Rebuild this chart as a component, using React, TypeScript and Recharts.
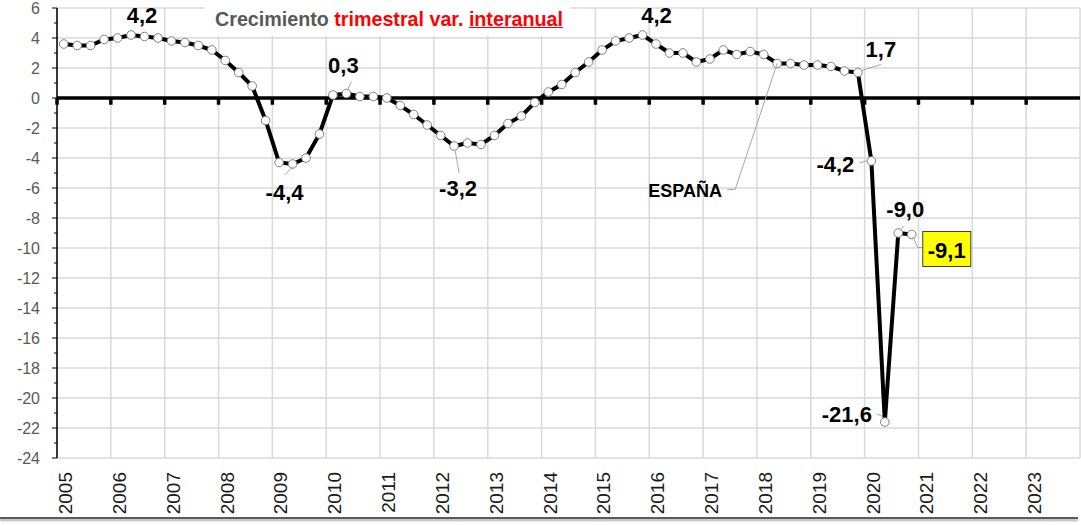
import {
  CartesianGrid,
  LabelList,
  Line,
  LineChart,
  ReferenceLine,
  XAxis,
  YAxis,
} from 'recharts'

// PIB España, crecimiento trimestral, variación interanual (%), 2005T1 - 2020T4
const firstYear = 2005
const interanual = [
  3.6, 3.5, 3.5, 3.9,
  4.0, 4.2, 4.1, 4.0,
  3.8, 3.7, 3.5, 3.2,
  2.5, 1.7, 0.8, -1.5,
  -4.3, -4.4, -4.0, -2.4,
  0.2, 0.3, 0.1, 0.1,
  0.0, -0.5, -1.1, -1.8,
  -2.5, -3.2, -3.0, -3.1,
  -2.5, -1.7, -1.2, -0.3,
  0.4, 0.9, 1.7, 2.4,
  3.2, 3.8, 4.0, 4.2,
  3.6, 3.0, 3.0, 2.4,
  2.6, 3.2, 2.9, 3.1,
  2.9, 2.3, 2.3, 2.2,
  2.2, 2.1, 1.8, 1.7,
  -4.2, -21.6, -9.0, -9.1,
]

const yearTicks = [
  2005, 2006, 2007, 2008, 2009, 2010, 2011, 2012, 2013, 2014,
  2015, 2016, 2017, 2018, 2019, 2020, 2021, 2022, 2023,
]
const yMajor = [-24, -22, -20, -18, -16, -14, -12, -10, -8, -6, -4, -2, 0, 2, 4, 6]
const yMinor = [-23, -21, -19, -17, -15, -13, -11, -9, -7, -5, -3, -1, 1, 3, 5]

// which points get a data label (no text -> the value itself)
const callouts = [
  { index: 5, dx: 11, dy: -12 },
  { index: 21, dx: -3, dy: -21, leader: [[5, -12], [1, -3]] },
  { index: 17, dx: -8, dy: 36, leader: [[0, 3], [-8, 11]] },
  { index: 29, dx: 4, dy: 50, leader: [[1, 4], [5, 27]] },
  { index: 43, dx: 14, dy: -12 },
  { index: 59, dx: 23, dy: -16, leader: [[4, -2], [23, -8]] },
  { index: 60, dx: -36, dy: 11, leader: [[-12, 2], [-5, 0]] },
  { index: 61, dx: -38, dy: 0, leader: [[-8, -8], [-3, -6]] },
  { index: 62, dx: 7, dy: -16, leader: [[1, -2], [6, -7]] },
  { index: 63, dx: 35, dy: 23, box: true, leader: [[1, 2], [6, 13], [11, 13]] },
  { index: 53, dx: -92, dy: 133, text: 'ESPAÑA', leader: [[0, 0], [-42, 126], [-50, 126]] },
]

const data = interanual.map((v, i) => ({ t: firstYear + (i + 0.5) / 4, v }))

const FONT = '"Liberation Sans", Arial, sans-serif'

const fmt = (v: number) => v.toFixed(1).replace('.', ',')

const YTick = ({ x, y, payload }: any) => {
  const major = yMajor.includes(payload.value)
  return (
    <g>
      <line x1={x - (major ? 5 : 3)} y1={y} x2={x} y2={y} stroke="#000" strokeWidth={1} />
      {major && (
        <text
          x={x - 17}
          y={y}
          textAnchor="end"
          dominantBaseline="central"
          fill="#595959"
          fontSize={16}
          fontFamily={FONT}
        >
          {payload.value}
        </text>
      )}
    </g>
  )
}

const XTick = ({ x, payload }: any) => (
  <text
    x={x + 15}
    y={472}
    transform={`rotate(-90, ${x + 15}, 472)`}
    textAnchor="end"
    fill="#1a1a1a"
    fontSize={19}
    fontFamily={FONT}
  >
    {payload.value}
  </text>
)

const Callout = (props: any) => {
  const { x, y, index, value } = props
  const c = callouts.find((k) => k.index === index)
  if (!c) return null
  const label = c.text ?? fmt(value)
  const size = c.text ? 18 : 22
  return (
    <g>
      {c.leader && (
        <polyline
          points={c.leader.map(([a, b]) => `${x + a},${y + b}`).join(' ')}
          fill="none"
          stroke="#a6a6a6"
          strokeWidth={1}
        />
      )}
      {c.box && (
        <rect
          x={x + 11}
          y={y - 3}
          width={48}
          height={35}
          fill="#ffff00"
          stroke="#404040"
          strokeWidth={1}
        />
      )}
      <text
        x={x + c.dx}
        y={y + c.dy}
        textAnchor="middle"
        fill="#000"
        fontSize={size}
        fontWeight="bold"
        fontFamily={FONT}
      >
        {label}
      </text>
    </g>
  )
}

export default function App() {
  return (
    <div
      style={{
        position: 'absolute',
        left: 0,
        top: 0,
        width: 1081,
        height: 525,
        background: '#fff',
        overflow: 'hidden',
      }}
    >
      <LineChart
        width={1081}
        height={525}
        data={data}
        margin={{ top: 8, right: 1, left: 0, bottom: 0 }}
      >
        <CartesianGrid horizontal={false} stroke="#d9d9d9" strokeWidth={1.5} />
        {yMajor.map((v) => (
          <ReferenceLine key={`g${v}`} y={v} stroke="#d9d9d9" strokeWidth={1.5} />
        ))}
        <XAxis
          dataKey="t"
          type="number"
          domain={[2005, 2024]}
          ticks={yearTicks}
          interval={0}
          axisLine={false}
          tickLine={false}
          tick={<XTick />}
          height={67}
        />
        <YAxis
          type="number"
          domain={[-24, 6]}
          ticks={[...yMajor, ...yMinor].sort((a, b) => a - b)}
          interval={0}
          width={57}
          tickSize={0}
          tickMargin={0}
          tickLine={false}
          axisLine={{ stroke: '#000', strokeWidth: 1.5 }}
          tick={<YTick />}
        />
        <ReferenceLine y={0} stroke="#000" strokeWidth={3.5} />
        {yearTicks.map((yr) => (
          <ReferenceLine
            key={`t${yr}`}
            segment={[
              { x: yr, y: 0 },
              { x: yr, y: -0.45 },
            ]}
            stroke="#000"
            strokeWidth={3.5}
          />
        ))}
        <Line
          dataKey="v"
          type="linear"
          stroke="#000"
          strokeWidth={4}
          dot={{ r: 4.3, fill: '#fff', stroke: '#808080', strokeWidth: 1 }}
          activeDot={false}
          isAnimationActive={false}
        >
          <LabelList dataKey="v" content={<Callout />} />
        </Line>
      </LineChart>

      <div
        style={{
          position: 'absolute',
          left: 205,
          top: 0,
          width: 365,
          height: 36,
          background: '#fff',
        }}
      />
      <div
        style={{
          position: 'absolute',
          left: 215,
          top: 7,
          fontFamily: FONT,
          fontWeight: 'bold',
          fontSize: 19.7,
          lineHeight: '24px',
          whiteSpace: 'nowrap',
        }}
      >
        <span style={{ color: '#595959' }}>Crecimiento </span>
        <span style={{ color: '#ff0000' }}>trimestral var. </span>
        <span style={{ color: '#ff0000', textDecoration: 'underline' }}>interanual</span>
      </div>

      <div
        style={{
          position: 'absolute',
          left: 0,
          top: 517,
          width: 1078,
          height: 2,
          background: '#5a5a5a',
          boxShadow: '0 2px 2px #b0b0b0',
        }}
      />
    </div>
  )
}
